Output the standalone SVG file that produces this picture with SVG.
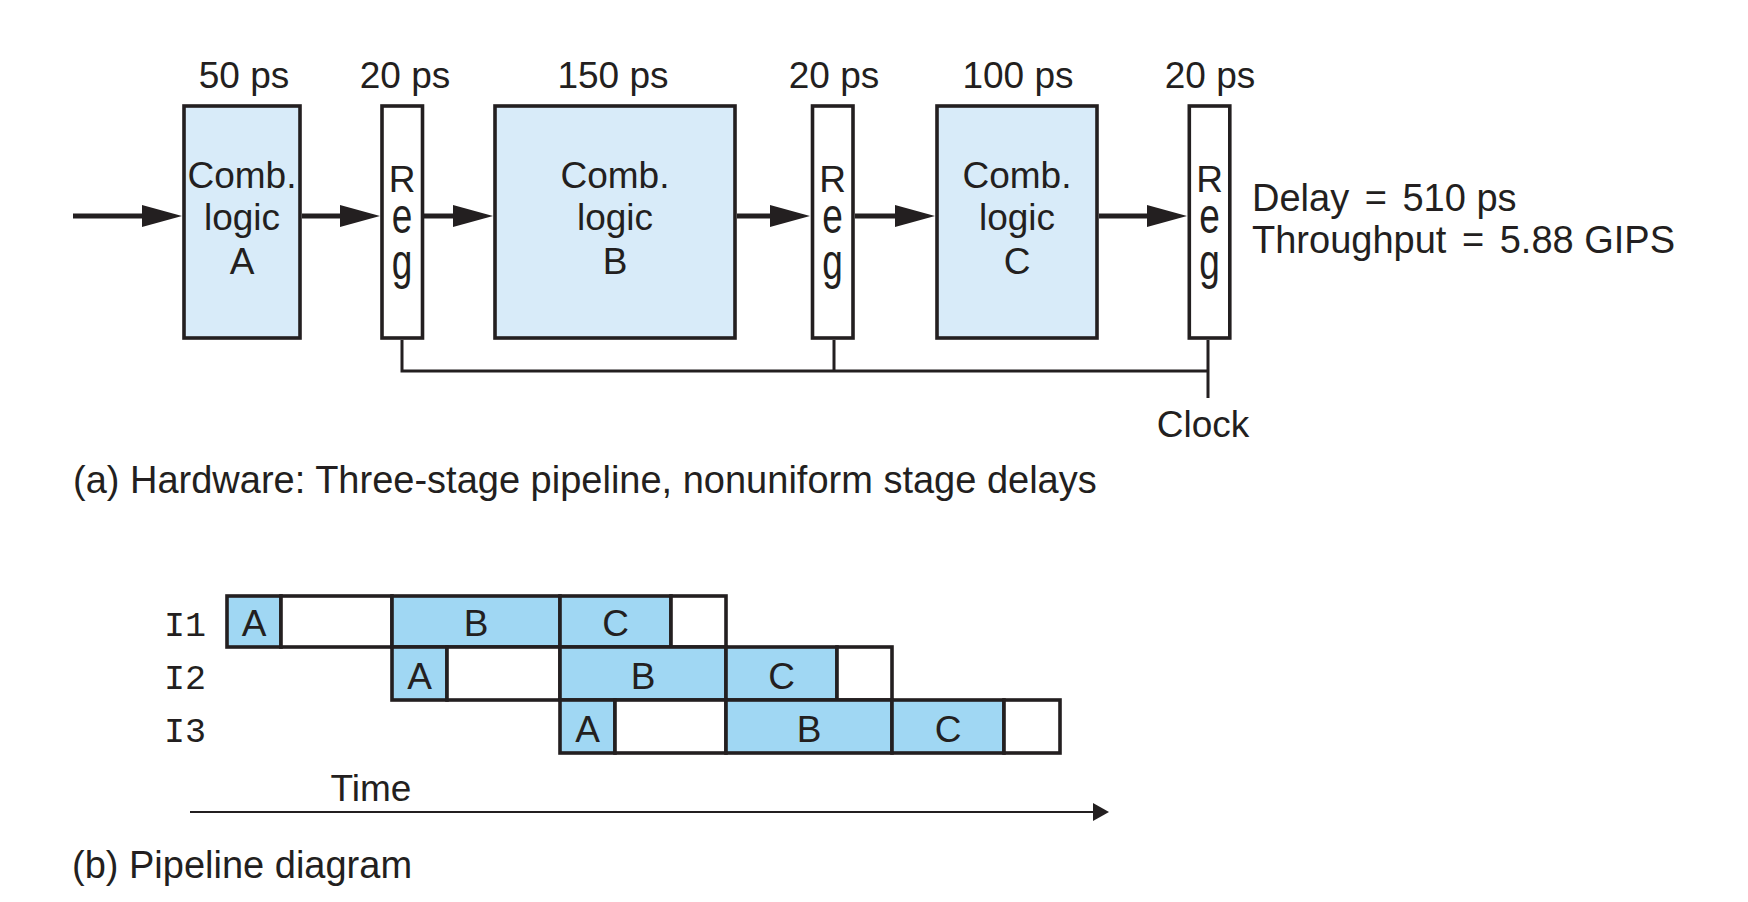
<svg xmlns="http://www.w3.org/2000/svg" width="1748" height="902" viewBox="0 0 1748 902">
<style>
text{font-family:"Liberation Sans",Arial,Helvetica,sans-serif;fill:#231f20;font-size:37px}
.m{text-anchor:middle}
.cap{font-size:38px}
.mono{font-family:"Liberation Mono","Courier New",monospace;font-size:35px}
.comb{fill:#d8ebf9;stroke:#231f20;stroke-width:3.6}
.reg{fill:#fff;stroke:#231f20;stroke-width:3.6}
.cell{fill:#a0d7f3;stroke:#231f20;stroke-width:3.6}
.blank{fill:#fff;stroke:#231f20;stroke-width:3.6}
.wire{stroke:#231f20;stroke-width:5;fill:none}
.clk{stroke:#231f20;stroke-width:3;fill:none}
</style>
<defs>
<marker id="ah" markerUnits="userSpaceOnUse" markerWidth="40" markerHeight="22" refX="0" refY="11" orient="auto" overflow="visible">
<path d="M0,0 L40,11 L0,22 z" fill="#231f20"/>
</marker>
<marker id="ah2" markerUnits="userSpaceOnUse" markerWidth="16" markerHeight="18" refX="0" refY="9" orient="auto" overflow="visible">
<path d="M0,0 L16,9 L0,18 z" fill="#231f20"/>
</marker>
</defs>

<g id="connectors">
<line class="wire" x1="73" y1="216" x2="142" y2="216" marker-end="url(#ah)"/>
<line class="wire" x1="302" y1="216" x2="340" y2="216" marker-end="url(#ah)"/>
<line class="wire" x1="424" y1="216" x2="453" y2="216" marker-end="url(#ah)"/>
<line class="wire" x1="737" y1="216" x2="770" y2="216" marker-end="url(#ah)"/>
<line class="wire" x1="855" y1="216" x2="895" y2="216" marker-end="url(#ah)"/>
<line class="wire" x1="1099" y1="216" x2="1147" y2="216" marker-end="url(#ah)"/>
<path class="clk" d="M402,340 V371 H1208 M834,340 V371 M1208,340 V398"/>
</g>

<g id="combA">
<rect class="comb" x="184" y="106" width="116" height="232"/>
<text class="m" x="242" y="188">Comb.</text>
<text class="m" x="242" y="230">logic</text>
<text class="m" x="242" y="274">A</text>
<text class="m" x="244" y="88">50 ps</text>
</g>
<g id="reg1">
<rect class="reg" x="382" y="106" width="40.5" height="232"/>
<text class="m" x="402" y="192">R</text>
<text class="m" transform="translate(402,233) scale(1,1.35)" font-size="34">e</text>
<text class="m" transform="translate(402,279) scale(1,1.35)" font-size="34">g</text>
<text class="m" x="405" y="88">20 ps</text>
</g>
<g id="combB">
<rect class="comb" x="495" y="106" width="240" height="232"/>
<text class="m" x="615" y="188">Comb.</text>
<text class="m" x="615" y="230">logic</text>
<text class="m" x="615" y="274">B</text>
<text class="m" x="613" y="88">150 ps</text>
</g>
<g id="reg2">
<rect class="reg" x="812.5" y="106" width="40.5" height="232"/>
<text class="m" x="832.5" y="192">R</text>
<text class="m" transform="translate(832.5,233) scale(1,1.35)" font-size="34">e</text>
<text class="m" transform="translate(832.5,279) scale(1,1.35)" font-size="34">g</text>
<text class="m" x="834" y="88">20 ps</text>
</g>
<g id="combC">
<rect class="comb" x="937" y="106" width="160" height="232"/>
<text class="m" x="1017" y="188">Comb.</text>
<text class="m" x="1017" y="230">logic</text>
<text class="m" x="1017" y="274">C</text>
<text class="m" x="1018" y="88">100 ps</text>
</g>
<g id="reg3">
<rect class="reg" x="1189.3" y="106" width="40.5" height="232"/>
<text class="m" x="1209.5" y="192">R</text>
<text class="m" transform="translate(1209.5,233) scale(1,1.35)" font-size="34">e</text>
<text class="m" transform="translate(1209.5,279) scale(1,1.35)" font-size="34">g</text>
<text class="m" x="1210" y="88">20 ps</text>
</g>
<g id="clock">
<text class="m" x="1203" y="437">Clock</text>
</g>
<g id="metrics">
<text class="cap" x="1252" y="211">Delay <tspan dx="5">=</tspan> <tspan dx="5">510 ps</tspan></text>
<text class="cap" x="1252" y="253">Throughput <tspan dx="5">=</tspan> <tspan dx="5">5.88 GIPS</tspan></text>
</g>
<text class="cap" x="73" y="493">(a) Hardware: Three-stage pipeline, nonuniform stage delays</text>

<g id="I1">
<text class="mono" x="164" y="636">I1</text>
<rect class="cell" x="227" y="596" width="54" height="51"/>
<rect class="blank" x="281" y="596" width="111" height="51"/>
<rect class="cell" x="392" y="596" width="168" height="51"/>
<rect class="cell" x="560" y="596" width="111" height="51"/>
<rect class="blank" x="671" y="596" width="55" height="51"/>
<text class="m" x="254" y="636">A</text>
<text class="m" x="476" y="636">B</text>
<text class="m" x="615.5" y="636">C</text>
</g>
<g id="I2">
<text class="mono" x="164" y="689">I2</text>
<rect class="cell" x="392" y="647" width="55" height="53"/>
<rect class="blank" x="447" y="647" width="113" height="53"/>
<rect class="cell" x="560" y="647" width="166" height="53"/>
<rect class="cell" x="726" y="647" width="111" height="53"/>
<rect class="blank" x="837" y="647" width="55" height="53"/>
<text class="m" x="419.5" y="689">A</text>
<text class="m" x="643" y="689">B</text>
<text class="m" x="781.5" y="689">C</text>
</g>
<g id="I3">
<text class="mono" x="164" y="742">I3</text>
<rect class="cell" x="560" y="700" width="55" height="53"/>
<rect class="blank" x="615" y="700" width="111" height="53"/>
<rect class="cell" x="726" y="700" width="166" height="53"/>
<rect class="cell" x="892" y="700" width="112" height="53"/>
<rect class="blank" x="1004" y="700" width="56" height="53"/>
<text class="m" x="587.5" y="742">A</text>
<text class="m" x="809" y="742">B</text>
<text class="m" x="948" y="742">C</text>
</g>
<g id="time">
<line x1="190" y1="812" x2="1093" y2="812" stroke="#231f20" stroke-width="2" marker-end="url(#ah2)"/>
<text class="m" x="371" y="801">Time</text>
</g>
<text class="cap" x="72" y="878">(b) Pipeline diagram</text>
</svg>
